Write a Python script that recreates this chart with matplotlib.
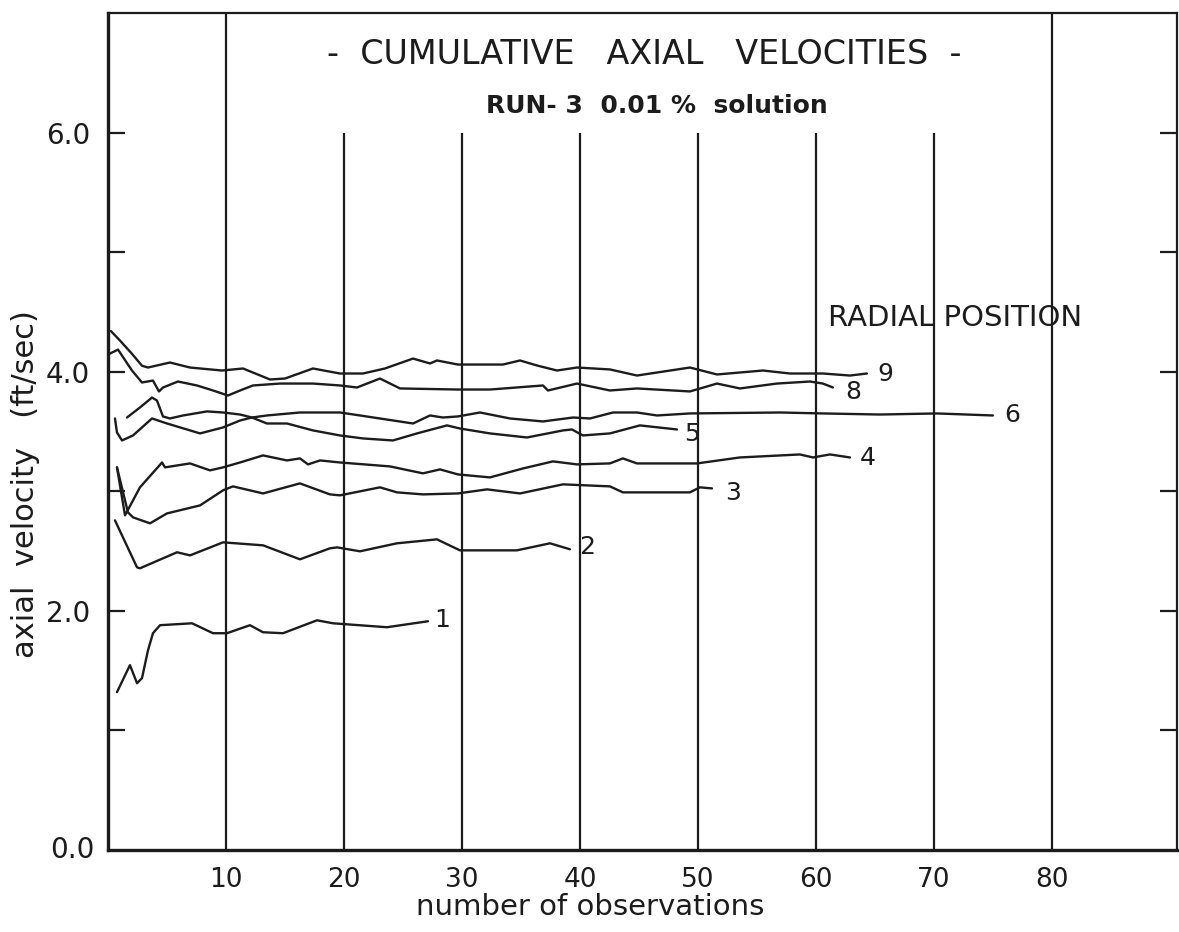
import matplotlib
matplotlib.use("Agg")
import matplotlib.pyplot as plt

# ---------------- data ----------------
x9 = [0.25, 1.02, 2.03, 2.88, 3.39, 5.25, 6.95, 9.66, 11.44, 13.73, 15.0, 17.37, 19.66, 21.61, 23.47,
      25.85, 27.29, 27.88, 29.66, 33.47, 34.92, 36.36, 38.05, 39.75, 42.54, 44.83, 49.32, 51.61,
      55.51, 57.8, 60.59, 62.88, 64.32]
y9 = [4.34, 4.26, 4.15, 4.05, 4.035, 4.077, 4.035, 4.01, 4.027, 3.935, 3.943, 4.027, 3.985, 3.985, 4.027,
      4.11, 4.069, 4.094, 4.06, 4.06, 4.094, 4.052, 4.01, 4.035, 4.019, 3.968, 4.035, 3.977,
      4.01, 3.985, 3.985, 3.968, 3.985]

x8 = [0.17, 0.85, 2.03, 2.88, 3.81, 4.32, 4.66, 5.93, 7.54, 8.9, 10.17, 11.19, 12.29, 14.58, 17.37,
      19.66, 21.1, 23.05, 24.75, 29.66, 32.37, 36.86, 37.29, 39.75, 42.54, 44.83, 49.32, 51.61,
      53.56, 56.69, 59.49, 60.59, 61.44]
y8 = [4.152, 4.185, 4.01, 3.91, 3.926, 3.835, 3.868, 3.918, 3.885, 3.843, 3.801, 3.843, 3.885, 3.901, 3.901,
      3.885, 3.868, 3.943, 3.86, 3.851, 3.851, 3.885, 3.843, 3.901, 3.843, 3.86, 3.835, 3.901,
      3.86, 3.901, 3.918, 3.901, 3.868]

x6 = [0.59, 0.76, 1.19, 2.12, 3.73, 5.0, 7.8, 9.75, 11.19, 12.2, 13.47, 16.27, 19.66, 21.36, 25.85,
      27.29, 28.39, 29.66, 31.53, 34.07, 36.86, 39.41, 40.85, 42.8, 44.83, 46.53, 49.32, 56.95,
      60.59, 65.42, 70.25, 75.0]
y6 = [3.609, 3.492, 3.425, 3.467, 3.609, 3.567, 3.484, 3.534, 3.592, 3.617, 3.634, 3.659, 3.659, 3.634, 3.567,
      3.634, 3.617, 3.626, 3.659, 3.609, 3.584, 3.617, 3.609, 3.659, 3.659, 3.634, 3.651, 3.659,
      3.651, 3.642, 3.651, 3.634]

x5 = [1.61, 2.71, 3.73, 4.15, 4.66, 5.25, 6.36, 8.39, 9.75, 11.19, 12.2, 13.47, 15.17, 17.37, 19.66,
      21.61, 24.15, 26.19, 28.73, 29.83, 32.37, 35.51, 38.56, 39.32, 40.25, 42.54, 45.08, 48.22]
y5 = [3.617, 3.701, 3.784, 3.759, 3.626, 3.609, 3.634, 3.668, 3.659, 3.642, 3.617, 3.567, 3.567, 3.509, 3.467,
      3.442, 3.425, 3.484, 3.551, 3.525, 3.484, 3.45, 3.509, 3.517, 3.467, 3.484, 3.551, 3.517]

x4 = [0.76, 1.44, 2.71, 4.58, 4.83, 6.95, 8.64, 9.75, 11.19, 13.14, 15.17, 16.27, 16.95, 17.97, 19.66,
      23.9, 26.69, 28.14, 29.66, 32.37, 35.17, 37.71, 39.75, 42.54, 43.64, 44.83, 49.92, 53.56,
      58.64, 59.75, 61.19, 62.88]
y4 = [3.2, 2.799, 3.033, 3.241, 3.2, 3.233, 3.175, 3.2, 3.241, 3.3, 3.258, 3.275, 3.225, 3.258, 3.241,
      3.208, 3.15, 3.183, 3.141, 3.116, 3.191, 3.25, 3.225, 3.233, 3.275, 3.233, 3.233, 3.283,
      3.308, 3.283, 3.308, 3.283]

x3 = [0.76, 1.69, 2.12, 3.56, 5.0, 7.8, 9.75, 10.59, 13.14, 16.27, 18.81, 19.66, 23.05, 24.49, 26.69,
      29.66, 32.12, 34.92, 38.56, 42.54, 43.64, 49.32, 50.17, 51.19]
y3 = [3.2, 2.824, 2.782, 2.732, 2.815, 2.882, 3.008, 3.041, 2.982, 3.066, 2.974, 2.966, 3.033, 2.991, 2.974,
      2.982, 3.016, 2.982, 3.058, 3.041, 2.991, 2.991, 3.033, 3.024]

x2 = [0.59, 2.46, 2.71, 5.85, 6.95, 9.75, 13.14, 16.27, 18.81, 19.41, 21.36, 24.49, 27.88, 29.83,
      34.66, 37.46, 39.15]
y2 = [2.757, 2.364, 2.356, 2.49, 2.464, 2.573, 2.548, 2.431, 2.523, 2.531, 2.498, 2.565, 2.598, 2.506,
      2.506, 2.565, 2.515]

x1 = [0.76, 1.86, 2.46, 2.88, 3.39, 3.81, 4.41, 7.12, 8.9, 10.08, 12.03, 13.14, 14.83, 17.71, 19.07,
      23.64, 27.12]
y1 = [1.32, 1.546, 1.395, 1.437, 1.67, 1.813, 1.88, 1.896, 1.813, 1.813, 1.88, 1.821, 1.813, 1.921, 1.896,
      1.863, 1.913]

series = [("9", x9, y9), ("8", x8, y8), ("6", x6, y6), ("5", x5, y5),
          ("4", x4, y4), ("3", x3, y3), ("2", x2, y2), ("1", x1, y1)]

# label offsets from each curve's last point (pixels)
label_offsets = {"9": (18, 0), "8": (20, -5), "6": (19, 0), "5": (15, -5),
                 "4": (18, -1), "3": (21, -5), "2": (17, 2), "1": (14, 1)}

x_ticks = [10, 20, 30, 40, 50, 60, 70, 80]
x_tick_labels = ["10", "20", "30", "40", "50", "60", "70", "80"]
y_ticks = [1, 2, 3, 4, 5, 6]
y_tick_labels = ["", "2.0", "", "4.0", "", "6.0"]
full_lines = [10, 80]
short_lines = [20, 30, 40, 50, 60, 70]

# ---------------- figure ----------------
W, H = 1179, 932
fig = plt.figure(figsize=(W / 100, H / 100), dpi=100)
ax = fig.add_axes([108 / W, 1 - 850 / H, (1177 - 108) / W, (850 - 13) / H])
ax.set_xlim(0, 90.6)
ax.set_ylim(0, 7)

ink = "#1c1c1c"
ax.vlines(full_lines, 0, 7, color=ink, lw=1.6)
ax.vlines(short_lines, 0, 6, color=ink, lw=1.6)

for name, xs, ys in series:
    ax.plot(xs, ys, color=ink, lw=1.7, solid_joinstyle="round", solid_capstyle="round")
    dx, dy = label_offsets[name]
    ax.annotate(name, (xs[-1], ys[-1]), xytext=(dx, dy), textcoords="offset pixels",
                ha="center", va="center", fontsize=18, color=ink)

for side in ["left", "bottom"]:
    ax.spines[side].set_linewidth(2.4)
for side in ["top", "right"]:
    ax.spines[side].set_linewidth(1.6)
for s in ax.spines.values():
    s.set_color(ink)

ax.set_xticks(x_ticks)
ax.set_xticklabels(x_tick_labels)
ax.set_yticks(y_ticks)
ax.set_yticklabels(y_tick_labels)
ax.tick_params(axis="x", length=0, pad=12, labelsize=19, colors=ink)
ax.tick_params(axis="y", direction="in", length=12, width=1.6, pad=13, labelsize=20,
               right=True, colors=ink)
# 0.0 label at the origin (no tick mark drawn there)
ax.text(-0.013, 0.0, "0.0", transform=ax.transAxes, ha="right", va="center",
        fontsize=20, color=ink)

ax.text(0.451, -0.068, "number of observations", transform=ax.transAxes,
        ha="center", va="center", fontsize=21, color=ink)
ax.text(-0.0776, 0.437, "axial  velocity   (ft/sec)", transform=ax.transAxes,
        ha="center", va="center", rotation=90, fontsize=22, color=ink)

fig.text(644 / W, 1 - 55 / H, "-  CUMULATIVE   AXIAL   VELOCITIES  -", ha="center", va="center",
         fontsize=24, color=ink)
fig.text(657 / W, 1 - 106 / H, "RUN- 3  0.01 %  solution", ha="center", va="center",
         fontsize=18, fontweight="bold", color=ink)
fig.text(955 / W, 1 - 318 / H, "RADIAL POSITION", ha="center", va="center",
         fontsize=21, color=ink)

fig.savefig("out.png", dpi=100)
